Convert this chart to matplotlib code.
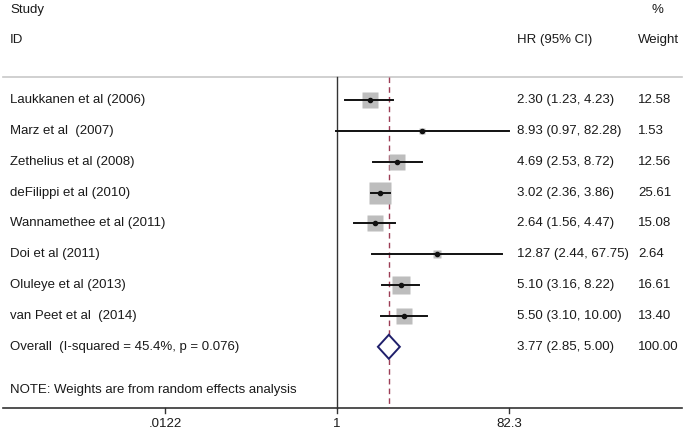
import numpy as np
import matplotlib
matplotlib.use("Agg")
import matplotlib.pyplot as plt

studies = ["Laukkanen et al (2006)", "Marz et al  (2007)", "Zethelius et al (2008)",
           "deFilippi et al (2010)", "Wannamethee et al (2011)", "Doi et al (2011)",
           "Oluleye et al (2013)", "van Peet et al  (2014)"]
hr = [2.30, 8.93, 4.69, 3.02, 2.64, 12.87, 5.10, 5.50]
lo = [1.23, 0.97, 2.53, 2.36, 1.56, 2.44, 3.16, 3.10]
hi = [4.23, 82.28, 8.72, 3.86, 4.47, 67.75, 8.22, 10.00]
weights = [12.58, 1.53, 12.56, 25.61, 15.08, 2.64, 16.61, 13.40]
overall_label = "Overall  (I-squared = 45.4%, p = 0.076)"
overall = [3.77, 2.85, 5.00]
overall_weight = 100.00
xticks = [0.0122, 1, 82.3]
xticklabels = [".0122", "1", "82.3"]
note = "NOTE: Weights are from random effects analysis"

W, H = 685, 434
fig = plt.figure(figsize=(W / 100, H / 100), dpi=100)
ax = fig.add_axes([0, 0, 1, 1])
ax.set_xscale("log")
x0, kx = 337.0, 39.05          # pixel of x=1, pixels per ln unit
y0, ky = 100.0, 30.85          # pixel of row 0, pixels per row
ax.set_xlim(np.exp((0 - x0) / kx), np.exp((W - x0) / kx))
ax.set_ylim((H - y0) / ky, (0 - y0) / ky)
ax.axis("off")

def ry(py):
    return (py - y0) / ky

def fx(px):
    return px / W

txt = "#1a1a1a"
fs = 9.5
font = "Liberation Sans"
tr = ax.get_yaxis_transform()

# header
ax.text(fx(10), ry(10), "Study", transform=tr, fontsize=fs, family=font, color=txt, va="center")
ax.text(fx(10), ry(40), "ID", transform=tr, fontsize=fs, family=font, color=txt, va="center")
ax.text(fx(517), ry(40), "HR (95% CI)", transform=tr, fontsize=fs, family=font, color=txt, va="center")
ax.text(fx(652), ry(10), "%", transform=tr, fontsize=fs, family=font, color=txt, va="center")
ax.text(fx(638), ry(40), "Weight", transform=tr, fontsize=fs, family=font, color=txt, va="center")

ytop, ybot = ry(77), ry(408)
ax.axhline(ytop, xmin=fx(3), xmax=fx(682), color="#c8c8c8", lw=1.2)
ax.axhline(ybot, xmin=fx(3), xmax=fx(682), color="#333333", lw=1.2)
ax.plot([1, 1], [ytop, ybot], color="#333333", lw=1.0)
ax.plot([overall[0]] * 2, [ytop, ybot], color="#9c3d55", lw=1.0, ls=(0, (4, 3)))

for i, (s, h, l, u, w) in enumerate(zip(studies, hr, lo, hi, weights)):
    side_px = 4.35 * np.sqrt(w)
    ax.plot([h], [i], marker="s", ms=side_px * 0.72, mfc="#bdbdbd", mec="none", zorder=2)
    ax.plot([l, u], [i, i], color="#111111", lw=1.4, zorder=3)
    ax.plot([h], [i], marker="o", ms=3.0, color="#111111", zorder=4)
    ax.text(fx(10), i, s, transform=tr, fontsize=fs, family=font, color=txt, va="center")
    ax.text(fx(517), i, f"{h:.2f} ({l:.2f}, {u:.2f})", transform=tr, fontsize=fs,
            family=font, color=txt, va="center")
    ax.text(fx(638), i, f"{w:.2f}", transform=tr, fontsize=fs, family=font, color=txt, va="center")

io = len(studies)
dh = 12 / ky
ax.fill([overall[1], overall[0], overall[2], overall[0], overall[1]],
        [io, io - dh, io, io + dh, io], facecolor="white", edgecolor="#1f1f6b", lw=1.4, zorder=3)
ax.text(fx(10), io, overall_label, transform=tr, fontsize=fs, family=font, color=txt, va="center")
ax.text(fx(517), io, f"{overall[0]:.2f} ({overall[1]:.2f}, {overall[2]:.2f})", transform=tr,
        fontsize=fs, family=font, color=txt, va="center")
ax.text(fx(638), io, f"{overall_weight:.2f}", transform=tr, fontsize=fs, family=font, color=txt, va="center")

ax.text(fx(10), ry(390), note, transform=tr, fontsize=fs, family=font, color=txt, va="center")

for t, lab in zip(xticks, xticklabels):
    ax.plot([t, t], [ybot, ry(413)], color="#333333", lw=1.0)
    ax.text(t, ry(424), lab, fontsize=fs, family=font, color=txt, ha="center", va="center")

fig.savefig("out.png", dpi=100)
